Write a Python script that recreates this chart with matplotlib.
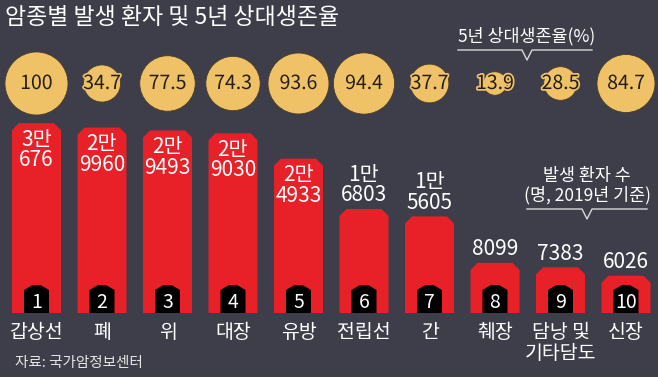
import matplotlib
matplotlib.use('Agg')
import matplotlib.pyplot as plt
import matplotlib.transforms as mtransforms
import matplotlib.patheffects as pe
from matplotlib.patches import Polygon

plt.rcParams['font.family'] = ['Noto Sans CJK KR', 'DejaVu Sans']

# data
cancers = ['갑상선', '폐', '위', '대장', '유방', '전립선', '간', '췌장', '담낭 및\n기타담도', '신장']
patients = [30676, 29960, 29493, 29030, 24933, 16803, 15605, 8099, 7383, 6026]
patient_labels = ['3만\n676', '2만\n9960', '2만\n9493', '2만\n9030', '2만\n4933',
                  '1만\n6803', '1만\n5605', '8099', '7383', '6026']
survival = [100, 34.7, 77.5, 74.3, 93.6, 94.4, 37.7, 13.9, 28.5, 84.7]
survival_labels = ['100', '34.7', '77.5', '74.3', '93.6', '94.4', '37.7', '13.9', '28.5', '84.7']

bg = '#3d3e4a'
red = '#e82027'
gold = '#efc267'

W, H = 658, 377
fig = plt.figure(figsize=(W / 100, H / 100), dpi=100, facecolor=bg)
ax = fig.add_axes([0, 0, 1, 1])
ax.set_facecolor(bg)
ax.axis('off')

# pixel geometry -> data limits
x0, dx = 36.5, 65.5          # px of first bar center, spacing
base_px = H - 313            # bar baseline from bottom
ppk = 6.19                   # px per 1000 patients
ax.set_xlim(-x0 / dx, (W - x0) / dx)
ax.set_ylim(-base_px / ppk * 1000, (H - base_px) / ppk * 1000)

ux = 1 / dx                  # one px in x data
uy = 1000 / ppk              # one px in y data
bw = 49 * ux
cx, cy = 7 * ux, 7 * uy

blend = mtransforms.blended_transform_factory(ax.transData, ax.transAxes)

for i, v in enumerate(patients):
    l, r = i - bw / 2, i + bw / 2
    ax.add_patch(Polygon([(l, 0), (l, v - cy), (l + cx, v), (r - cx, v),
                          (r, v - cy), (r, 0)], closed=True, color=red, lw=0))
    # number badge
    hw, tw = 12.5 * ux, 4 * ux
    ax.add_patch(Polygon([(i - hw, 0), (i - hw, 23 * uy), (i - tw, 28 * uy),
                          (i + tw, 28 * uy), (i + hw, 23 * uy), (i + hw, 0)],
                         closed=True, color='black', lw=0))
    ax.text(i, 11 * uy, str(i + 1), color='white', fontsize=14,
            ha='center', va='center')
    # value labels
    if i < 5:
        ax.annotate(patient_labels[i], (i, v), xytext=(0, -4), textcoords='offset points',
                    ha='center', va='top', color='white', fontsize=15, linespacing=0.92)
    else:
        ax.annotate(patient_labels[i], (i, v), xytext=(0, 2), textcoords='offset points',
                    ha='center', va='bottom', color='white', fontsize=15, linespacing=0.92)
    # category
    ax.text(i, 1 - 322 / H, cancers[i], transform=blend, ha='center', va='top',
            color='white', fontsize=14, linespacing=1.0)

# survival circles, area proportional to rate
circ_y = 1 - 83.5 / H
sizes = [s * 20.6 for s in survival]
ax.scatter(range(len(survival)), [circ_y] * len(survival), s=sizes, color=gold,
           edgecolor='#4a3d28', linewidth=0.6, transform=blend, zorder=3)
for i, t in enumerate(survival_labels):
    ax.text(i, circ_y, t, transform=blend, ha='center', va='center', fontsize=14,
            color='#231d18', zorder=4,
            path_effects=[pe.withStroke(linewidth=2.5, foreground=gold)])

# bracket annotations
def bracket(xl, xr, xc, y_px, text_lines):
    y = 1 - y_px / H
    n = 4 / H
    ax.plot([xl, xc - 5 * ux, xc, xc + 5 * ux, xr], [y, y, y - 2.5 * n, y, y],
            transform=blend, color='#d8d8dc', lw=1)
    ax.text(xc, y + 5 / H, text_lines, transform=blend, ha='center', va='bottom',
            color='white', fontsize=12.5, linespacing=1.05)

bracket((458 - x0) / dx, (592 - x0) / dx, (527 - x0) / dx, 50, '5년 상대생존율(%)')
bracket((527 - x0) / dx, (647 - x0) / dx, (587 - x0) / dx, 209, '발생 환자 수\n(명, 2019년 기준)')

fig.text(5 / W, 1 - 17 / H, '암종별 발생 환자 및 5년 상대생존율', color='white',
         fontsize=16.5, ha='left', va='center')
fig.text(15 / W, 1 - 363 / H, '자료: 국가암정보센터', color='#e6e6e6',
         fontsize=10.5, ha='left', va='center')

fig.savefig('out.png', dpi=100, facecolor=bg)
